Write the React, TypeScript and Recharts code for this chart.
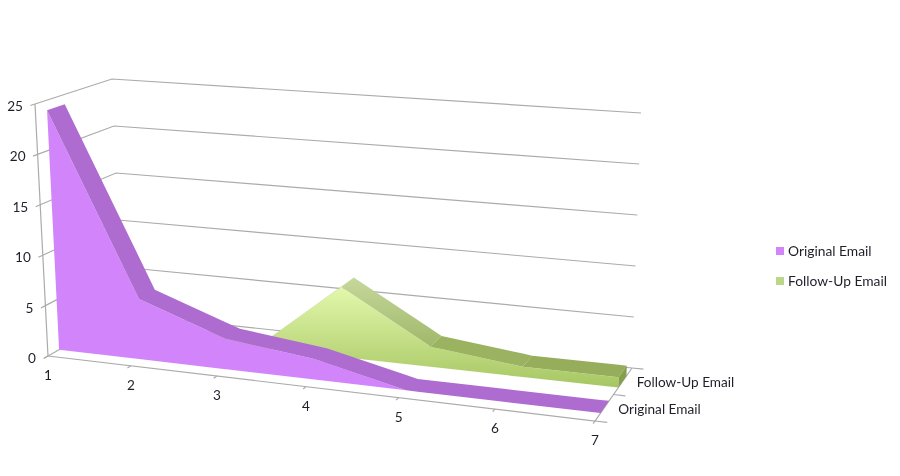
import React from "react";
import { ComposedChart, Area, Line, Scatter, XAxis, YAxis, Legend } from "recharts";

// ---- chart values ----
const categories = [1, 2, 3, 4, 5, 6, 7];
const originalEmail = [24, 6, 3, 2, 0, 0, 0];
const followUpEmail = [0, 0, 0, 7, 2, 1, 1];
const valueTicks = [0, 5, 10, 15, 20, 25];
const seriesNames = ["Original Email", "Follow-Up Email"];

// ---- styling ----
const WIDTH = 900;
const HEIGHT = 476;
const FONT = "Lato, 'Open Sans', sans-serif";
const GRID = "#ABABAB";
const PURPLE_FACE = "#D285FB";
const PURPLE_TOP = "#AE6BD0";
const GREEN_TOPS = ["#BCD08E", "#BCD08E", "#BCD08E", "url(#greenSlope)", "#9BB360", "#96AE5C"];
const GREEN_SIDE = "#84A04A";
const LEGEND_SWATCH = ["#D285FB", "#BBD88A"];

// ---- 3D box projection (the 8 corners of the plot box on the page) ----
type Pt = { x: number; y: number };
const floorFL = { x: 48, y: 356 };
const floorFR = { x: 595, y: 421 };
const floorBL = { x: 122, y: 314 };
const floorBR = { x: 632, y: 368 };
const topFL = { x: 35, y: 104 };
const topFR = { x: 606, y: 155 };
const topBL = { x: 112, y: 79 };
const topBR = { x: 641, y: 113 };
const PERSPECTIVE = 1.12;
const MAX_VALUE = 25;

const mix = (a: Pt, b: Pt, k: number): Pt => ({ x: a.x + (b.x - a.x) * k, y: a.y + (b.y - a.y) * k });
const along = (c: number) => {
  const s = (c - 1) / (categories.length - 1);
  return s / (s + (1 - s) * PERSPECTIVE);
};
// category c, depth d (0 = front, 1 = back), value v
const project = (c: number, d: number, v: number): Pt => {
  const t = along(c);
  const floor = mix(mix(floorFL, floorFR, t), mix(floorBL, floorBR, t), d);
  const top = mix(mix(topFL, topFR, t), mix(topBL, topBR, t), d);
  return mix(floor, top, v / MAX_VALUE);
};

// depth slots of the two series
const ORIG_D = [0.15, 0.38];
const FOLLOW_D = [0.63, 0.85];

// Turns an x-monotone outline into rows for a ranged Area
const toBand = (poly: Pt[]) => {
  const xs = Array.from(new Set(poly.map((p) => p.x))).sort((a, b) => a - b);
  return xs.map((x) => {
    const ys: number[] = [];
    poly.forEach((a, i) => {
      const b = poly[(i + 1) % poly.length];
      if (x < Math.min(a.x, b.x) || x > Math.max(a.x, b.x)) return;
      if (a.x === b.x) ys.push(a.y, b.y);
      else ys.push(a.y + ((b.y - a.y) * (x - a.x)) / (b.x - a.x));
    });
    return { x, band: [Math.min(...ys), Math.max(...ys)] };
  });
};

const frontFace = (vals: number[], d: number) => [
  ...categories.map((c, i) => project(c, d, vals[i])),
  ...[...categories].reverse().map((c) => project(c, d, 0)),
];
const ribbon = (vals: number[], d0: number, d1: number) => [
  ...categories.map((c, i) => project(c, d1, vals[i])),
  ...[...categories].reverse().map((c) => project(c, d0, vals[c - 1])),
];
const ribbonSeg = (vals: number[], i: number, d0: number, d1: number) => [
  project(categories[i], d0, vals[i]),
  project(categories[i + 1], d0, vals[i + 1]),
  project(categories[i + 1], d1, vals[i + 1]),
  project(categories[i], d1, vals[i]),
];
const lastC = categories[categories.length - 1];
const lastF = followUpEmail[followUpEmail.length - 1];
const greenSide = [
  project(lastC, FOLLOW_D[0], lastF),
  project(lastC, FOLLOW_D[1], lastF),
  project(lastC, FOLLOW_D[1], 0),
  project(lastC, FOLLOW_D[0], 0),
];

// Grey frame lines
const frameLines: Pt[][] = [
  ...valueTicks.map((v) => [project(1, -0.06, v), project(1, 0, v), project(1, 1, v), project(lastC, 1, v)]),
  [project(1, 0, 0), project(1, 0, MAX_VALUE)],
  [project(1, 0, 0), project(lastC, 0, 0), project(lastC, 1, 0)],
  ...categories.map((c) => [project(c, 0, 0), project(c, -0.05, 0)]),
  ...[0, 0.5, 1].map((d) => [project(lastC, d, 0), project(lastC + 0.12, d, 0)]),
];

type Lab = Pt & { text: string; anchor: string };
const labels: Lab[] = [
  ...valueTicks.map((v) => {
    const p = project(1, 0, v);
    return { x: p.x - 12, y: p.y + 2, text: String(v), anchor: "end" };
  }),
  ...categories.map((c) => {
    const p = project(c, 0, 0);
    return { x: p.x, y: p.y + 19, text: String(c), anchor: "middle" };
  }),
  ...seriesNames.map((name, i) => {
    const p = project(lastC, i === 0 ? 0.25 : 0.75, 0);
    return { x: p.x + 14, y: p.y + 1, text: name, anchor: "start" };
  }),
];

const LabelShape = (props: any) => {
  const { cx, cy, payload } = props;
  return (
    <text
      x={cx}
      y={cy}
      textAnchor={payload.anchor}
      dominantBaseline="central"
      fontFamily={FONT}
      fontSize={13.6}
      fill="#1F1F2A"
    >
      {payload.text}
    </text>
  );
};

const LegendBox = () => (
  <div style={{ fontFamily: FONT, fontSize: 13.8, color: "#1F1F2A", lineHeight: "16px" }}>
    {seriesNames.map((name, i) => (
      <div key={name} style={{ display: "flex", alignItems: "center", height: 16, marginBottom: 14 }}>
        <span style={{ width: 8, height: 8, background: LEGEND_SWATCH[i], marginRight: 4, display: "inline-block" }} />
        {name}
      </div>
    ))}
  </div>
);

const area = (key: string, poly: Pt[], fill: string, z: number) => (
  <Area
    key={key}
    data={toBand(poly)}
    dataKey="band"
    xAxisId="px"
    yAxisId="px"
    type="linear"
    stroke="none"
    fill={fill}
    fillOpacity={1}
    dot={false}
    activeDot={false}
    isAnimationActive={false}
    {...({ zIndex: z } as any)}
  />
);

export default function App() {
  return (
    <div
      style={{
        position: "absolute",
        left: 0,
        top: 0,
        width: WIDTH,
        height: HEIGHT,
        background: "#fff",
        filter: "blur(0.4px)",
      }}
    >
      <ComposedChart width={WIDTH} height={HEIGHT} margin={{ top: 0, right: 0, bottom: 0, left: 0 }}>
        <defs>
          <linearGradient id="greenFace" x1="0" y1="0" x2="0" y2="1">
            <stop offset="0%" stopColor="#E3F8AC" />
            <stop offset="100%" stopColor="#A6C662" />
          </linearGradient>
          <linearGradient id="greenSlope" x1="0" y1="0" x2="0" y2="1">
            <stop offset="0%" stopColor="#C6D89C" />
            <stop offset="100%" stopColor="#A0B869" />
          </linearGradient>
        </defs>
        <XAxis xAxisId="px" type="number" dataKey="x" domain={[0, WIDTH]} allowDataOverflow hide />
        <YAxis yAxisId="px" type="number" domain={[0, HEIGHT]} reversed allowDataOverflow hide width={0} />
        {frameLines.map((pts, i) => (
          <Line
            key={"frame" + i}
            data={pts}
            dataKey="y"
            xAxisId="px"
            yAxisId="px"
            type="linear"
            stroke={GRID}
            strokeWidth={1.2}
            dot={false}
            activeDot={false}
            isAnimationActive={false}
            {...({ zIndex: 10 } as any)}
          />
        ))}
        {area("gf", frontFace(followUpEmail, FOLLOW_D[0]), "url(#greenFace)", 20)}
        {categories.slice(0, -1).map((_, i) =>
          area("gs" + i, ribbonSeg(followUpEmail, i, FOLLOW_D[0], FOLLOW_D[1]), GREEN_TOPS[i], 21)
        )}
        {area("gside", greenSide, GREEN_SIDE, 21)}
        {area("pf", frontFace(originalEmail, ORIG_D[0]), PURPLE_FACE, 30)}
        {area("pr", ribbon(originalEmail, ORIG_D[0], ORIG_D[1]), PURPLE_TOP, 31)}
        <Scatter
          data={labels}
          dataKey="y"
          xAxisId="px"
          yAxisId="px"
          shape={LabelShape}
          isAnimationActive={false}
        />
        <Legend
          layout="horizontal"
          align="center"
          verticalAlign="middle"
          content={<LegendBox />}
          wrapperStyle={{ left: 776, top: 243, width: 124, bottom: "auto", right: "auto" }}
        />
      </ComposedChart>
    </div>
  );
}
